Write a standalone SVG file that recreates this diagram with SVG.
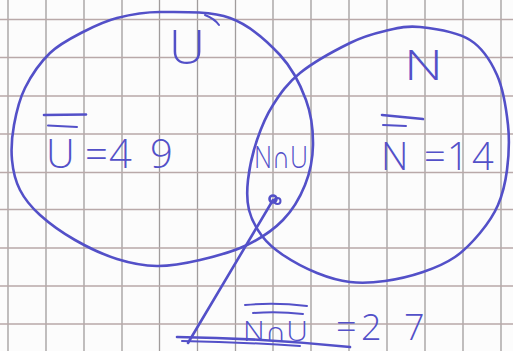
<svg xmlns="http://www.w3.org/2000/svg" width="513" height="351" viewBox="0 0 513 351">
<style>
.ink{fill:none;stroke:#5350c8;stroke-width:2.6;stroke-linecap:round;stroke-linejoin:round}
.thin{fill:none;stroke:#5350c8;stroke-width:2;stroke-linecap:round}
.t{fill:#5350c8;font-family:"Open Sans","Liberation Sans","DejaVu Sans",sans-serif;font-weight:300}
.gv{stroke:#a09c9c;stroke-width:1.3}
.gh{stroke:#b9a9a9;stroke-width:1.3}
</style>
<rect width="513" height="351" fill="#fcfcfc"/>
<g id="grid">
<line class="gv" x1="8" y1="0" x2="8" y2="351"/>
<line class="gv" x1="46" y1="0" x2="46" y2="351"/>
<line class="gv" x1="84" y1="0" x2="84" y2="351"/>
<line class="gv" x1="122" y1="0" x2="122" y2="351"/>
<line class="gv" x1="159.5" y1="0" x2="159.5" y2="351"/>
<line class="gv" x1="197.5" y1="0" x2="197.5" y2="351"/>
<line class="gv" x1="235.5" y1="0" x2="235.5" y2="351"/>
<line class="gv" x1="273" y1="0" x2="273" y2="351"/>
<line class="gv" x1="311" y1="0" x2="311" y2="351"/>
<line class="gv" x1="349" y1="0" x2="349" y2="351"/>
<line class="gv" x1="387" y1="0" x2="387" y2="351"/>
<line class="gv" x1="425" y1="0" x2="425" y2="351"/>
<line class="gv" x1="463" y1="0" x2="463" y2="351"/>
<line class="gv" x1="501" y1="0" x2="501" y2="351"/>
<line class="gh" x1="0" y1="19.5" x2="513" y2="19.5"/>
<line class="gh" x1="0" y1="57.5" x2="513" y2="57.5"/>
<line class="gh" x1="0" y1="96" x2="513" y2="96"/>
<line class="gh" x1="0" y1="134" x2="513" y2="134"/>
<line class="gh" x1="0" y1="172.5" x2="513" y2="172.5"/>
<line class="gh" x1="0" y1="209.5" x2="513" y2="209.5"/>
<line class="gh" x1="0" y1="248" x2="513" y2="248"/>
<line class="gh" x1="0" y1="286" x2="513" y2="286"/>
<line class="gh" x1="0" y1="324" x2="513" y2="324"/>
</g>
<g id="node-U">
<path class="ink" d="M160,12 C178.8,12 210,10.8 230,18 C250,25.2 267.3,41.3 280,55 C292.7,68.7 300.5,85 306,100 C311.5,115 313.2,130.8 313,145 C312.8,159.2 310,172.5 305,185 C300,197.5 292.7,210 283,220 C273.3,230 260.8,238.3 247,245 C233.2,251.7 215,256.5 200,260 C185,263.5 170.8,266.2 157,266 C143.2,265.8 130.7,263.3 117,259 C103.3,254.7 87.8,247.3 75,240 C62.2,232.7 49.2,223.3 40,215 C30.8,206.7 24.7,199.2 20,190 C15.3,180.8 13,170.8 12,160 C11,149.2 11.8,137 14,125 C16.2,113 19,100 25,88 C31,76 40.3,62.3 50,53 C59.7,43.7 71.8,37.8 83,32 C94.2,26.2 104.2,21.3 117,18 C129.8,14.7 141.2,12 160,12 Z"/>
<path class="thin" d="M205,15 Q215,19 219,25"/>
<text class="t" x="169" y="64" font-size="48" textLength="36" lengthAdjust="spacingAndGlyphs">U</text>
<line class="ink" x1="44" y1="115" x2="86" y2="114.5"/>
<line class="thin" x1="48" y1="125.5" x2="77" y2="127"/>
<text class="t" font-size="40" y="168"><tspan x="46">U</tspan><tspan x="85">=</tspan><tspan x="109">4</tspan><tspan x="150">9</tspan></text>
</g>
<g id="node-N">
<path class="ink" d="M420,27 C434.2,28.5 457.2,32 470,40 C482.8,48 490.7,60.8 497,75 C503.3,89.2 506.3,109.2 508,125 C509.7,140.8 508.7,156.7 507,170 C505.3,183.3 502.5,194.5 498,205 C493.5,215.5 487.2,224.3 480,233 C472.8,241.7 464.5,250.5 455,257 C445.5,263.5 434.7,268 423,272 C411.3,276 397.2,279.3 385,281 C372.8,282.7 361.3,283.3 350,282 C338.7,280.7 328.2,277.5 317,273 C305.8,268.5 292.2,261.2 283,255 C273.8,248.8 267.7,243.5 262,236 C256.3,228.5 251.3,219.3 249,210 C246.7,200.7 246.7,191.7 248,180 C249.3,168.3 252.8,152.5 257,140 C261.2,127.5 265.8,116.2 273,105 C280.2,93.8 287.2,83.3 300,73 C312.8,62.7 335.8,50 350,43 C364.2,36 373.3,33.7 385,31 C396.7,28.3 405.8,25.5 420,27 Z"/>
<text class="t" x="404" y="80" font-size="42" textLength="39" lengthAdjust="spacingAndGlyphs">N</text>
<line class="ink" x1="382" y1="115" x2="423" y2="119"/>
<line class="thin" x1="383" y1="125" x2="406" y2="126"/>
<text class="t" font-size="38" y="170"><tspan x="381">N</tspan><tspan x="424">=</tspan><tspan x="447">1</tspan><tspan x="472">4</tspan></text>
</g>
<g id="node-intersection">
<text class="t" x="254" y="168" font-size="32" textLength="54" lengthAdjust="spacingAndGlyphs">N∩U</text>
<circle class="ink" cx="273" cy="199" r="3.5"/>
<circle class="thin" cx="277.5" cy="201" r="3"/>
</g>
<g id="connectors">
<path class="ink" d="M273,200 L188,343"/>
<path class="ink" d="M177,337 Q260,338 350,347"/>
<path class="thin" d="M182,341 Q240,342 300,346"/>
</g>
<g id="label-outside">
<path class="thin" d="M245,305 Q275,302 307,306"/>
<path class="thin" d="M253,313 Q278,311 303,314"/>
<text class="t" x="243" y="341" font-size="28" textLength="65" lengthAdjust="spacingAndGlyphs">N∩U</text>
<text class="t" font-size="36" y="340"><tspan x="336">=</tspan><tspan x="361">2</tspan><tspan x="404">7</tspan></text>
</g>
</svg>
